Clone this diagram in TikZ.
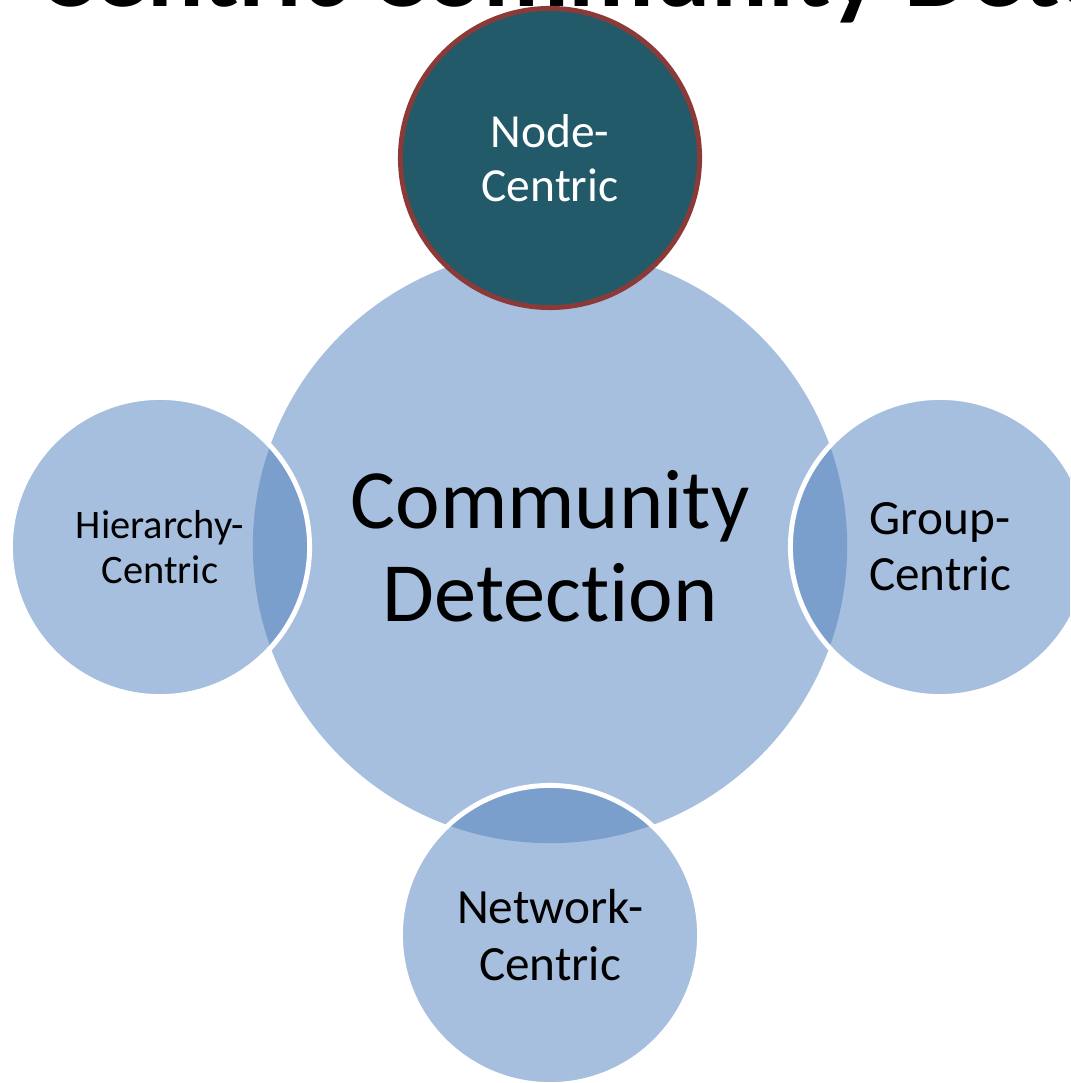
\documentclass[tikz,border=0pt]{standalone}
\usepackage{fontspec}
\setmainfont{Carlito}[Ligatures=NoCommon]

\definecolor{softblue}{HTML}{A7BFDE}
\definecolor{lensblue}{HTML}{7B9FCC}
\definecolor{tealdark}{HTML}{225A69}
\definecolor{rimred}{HTML}{8C3A38}

\begin{document}
\begin{tikzpicture}[x=0.01cm, y=-0.01cm,
    every node/.style={inner sep=0pt, align=center},
    corecircle/.style={circle, fill=softblue, minimum size=5.94cm,
        font=\fontsize{24}{26.5}\selectfont},
    satellite/.style={circle, fill=softblue, draw=white, line width=1.4pt,
        minimum size=2.99cm, font=\fontsize{14}{16}\selectfont,
        path picture={\fill[lensblue] (core.center) circle[radius=2.97cm];}},
    topcircle/.style={circle, fill=tealdark, draw=rimred, line width=1.4pt,
        minimum size=2.99cm, text=white, font=\fontsize{13.5}{15.5}\selectfont}]
    \useasboundingbox (0,0) rectangle (1070,1083);
    \clip (0,0) rectangle (1070,1083);

    % title, cut at the top edge
    \node[anchor=base west, font=\fontsize{30}{30}\selectfont\bfseries] (title) at (370,7)
        {\llap{Node-Centric }Community Detection};

    % central circle
    \node[corecircle] (core) at (550,546) {Community\\Detection};

    % satellites overlapping the central circle
    \node[satellite, font=\fontsize{11.5}{13}\selectfont] (hier) at (160,547) {Hierarchy-\\Centric};
    \node[satellite] (group) at (940,547) {Group-\\Centric};
    \node[satellite] (network) at (550,935) {Network-\\Centric};

    % highlighted circle on top
    \node[topcircle] (nodec) at (550,158) {Node-\\Centric};
\end{tikzpicture}
\end{document}
